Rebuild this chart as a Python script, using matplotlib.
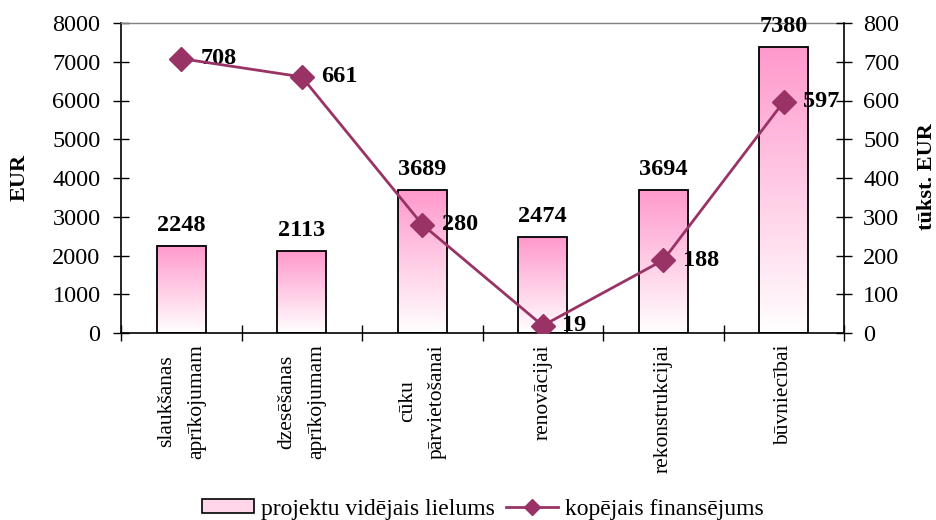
import numpy as np
import matplotlib
matplotlib.use('Agg')
import matplotlib.pyplot as plt
from matplotlib.colors import LinearSegmentedColormap
from matplotlib.patches import Patch
from matplotlib.lines import Line2D

# data
categories = ['slaukšanas\naprīkojumam', 'dzesēšanas\naprīkojumam', 'cūku\npārvietošanai',
              'renovācijai', 'rekonstrukcijai', 'būvniecībai']
avg_size = [2248, 2113, 3689, 2474, 3694, 7380]          # EUR
total_funding = [708, 661, 280, 19, 188, 597]            # tūkst. EUR

line_color = '#993366'
pink_top = '#FF99CC'

plt.rcParams['font.family'] = 'Liberation Serif'

fig = plt.figure(figsize=(9.36, 5.2), dpi=100)
ax = fig.add_axes([121/936, 1 - 333/520, (844 - 121)/936, (333 - 23)/520])

x = np.arange(len(categories))
bars = ax.bar(x, avg_size, width=0.41, facecolor='none', edgecolor='black',
              linewidth=1.3, zorder=3)

# gradient fill: pink at the top of each bar fading to white at the bottom
fade = LinearSegmentedColormap.from_list('pinkfade', ['#FFFFFF', pink_top])
grad = np.linspace(0, 1, 256).reshape(-1, 1)
for b in bars:
    x0, w, h = b.get_x(), b.get_width(), b.get_height()
    ax.imshow(grad, cmap=fade, origin='lower', extent=[x0, x0 + w, 0, h],
              aspect='auto', zorder=2, interpolation='bilinear')

ax.set_xlim(-0.5, len(categories) - 0.5)
ax.set_ylim(0, 8000)
ax.set_yticks(range(0, 8001, 1000))
ax.tick_params(axis='y', direction='inout', length=11.5, width=1, labelsize=17.5, pad=9)

ax.set_xticks(np.arange(-0.5, len(categories), 1))
ax.set_xticklabels([])
ax.tick_params(axis='x', which='major', direction='inout', length=11, width=1)
ax.set_xticks(x, minor=True)
ax.set_xticklabels(categories, minor=True, rotation=90, fontsize=15.5,
                   linespacing=1.8, ha='center', va='top', multialignment='center')
ax.tick_params(axis='x', which='minor', length=0, pad=8)

ax.spines['top'].set_color('#808080')
ax.spines['top'].set_linewidth(1)
ax.spines['right'].set_visible(False)
for s in ['left', 'bottom']:
    ax.spines[s].set_linewidth(1.2)

for xi, v in zip(x, avg_size):
    ax.annotate(f'{v}', (xi, v), xytext=(0, 7), textcoords='offset points',
                ha='center', va='bottom', fontsize=17.5, fontweight='bold', zorder=5)

ax2 = ax.twinx()
ax2.plot(x, total_funding, color=line_color, lw=2, marker='D', ms=12.5, zorder=4)
ax2.set_ylim(0, 800)
ax2.set_yticks(range(0, 801, 100))
ax2.tick_params(axis='y', direction='inout', length=11.5, width=1, labelsize=17.5, pad=8)
for s in ['top', 'left', 'bottom']:
    ax2.spines[s].set_visible(False)
ax2.spines['right'].set_linewidth(1.2)

for xi, v in zip(x, total_funding):
    ax2.annotate(str(v), (xi, v), xytext=(14, 0), textcoords='offset points',
                 ha='left', va='center', fontsize=17.5, fontweight='bold')

fig.text(20/936, 1 - 177/520, 'EUR', rotation=90, fontsize=16, fontweight='bold',
         ha='center', va='center')
fig.text(927/936, 1 - 177/520, 'tūkst. EUR', rotation=90, fontsize=16, fontweight='bold',
         ha='center', va='center')

handles = [Patch(facecolor='#FFD6EA', edgecolor='black', linewidth=1.2),
           Line2D([], [], color=line_color, lw=2, marker='D', ms=8)]
fig.legend(handles, ['projektu vidējais lielums', 'kopējais finansējums'],
           loc='center', bbox_to_anchor=(483/936, 1 - 509/520), ncol=2, frameon=False,
           fontsize=17, handlelength=2.2, handleheight=0.5, handletextpad=0.3,
           columnspacing=0.5, borderpad=0)

fig.savefig('out.png', dpi=100)
